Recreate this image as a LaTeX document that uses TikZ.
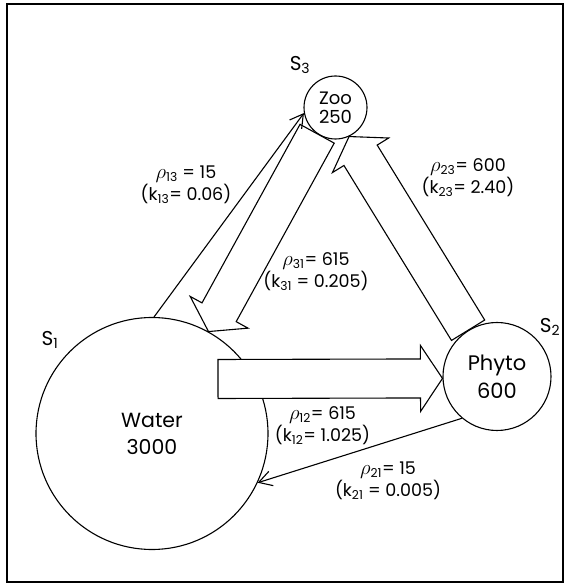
\documentclass[tikz,border=0pt]{standalone}
\usepackage{fontspec}
\setmainfont{Poppins}
\usetikzlibrary{calc}
\usetikzlibrary{arrows.meta}

\tikzset{
  pool/.style={draw, circle, line width=1.1pt, inner sep=0pt, align=center},
  bigflux/.style={draw, fill=white, line width=1.1pt, line join=miter},
  flux/.style={line width=1.1pt, -{Straight Barb[length=13pt,width=15pt]}},
  rate/.style={align=center, font=\fontsize{17.5}{22}\selectfont},
  tag/.style={font=\fontsize{20}{24}\selectfont},
}

\newcommand{\flowrho}{{\fontsize{22}{22}\selectfont$\rho$}}

% block arrow from #1 to the tip #2
\newcommand{\fatarrow}[2]{%
  \coordinate (head) at ($(#2)!22pt!(#1)$);
  \draw[bigflux] ($(#1)!19.5pt!-90:(#2)$) -- ($(head)!19.5pt!-90:(#2)$)
    -- ($(head)!33pt!-90:(#2)$) -- (#2) -- ($(head)!33pt!90:(#2)$)
    -- ($(head)!19.5pt!90:(#2)$) -- ($(#1)!19.5pt!90:(#2)$) -- cycle;
}

\begin{document}
\begin{tikzpicture}[x=1pt, y=1pt]

\useasboundingbox (0,0) rectangle (566,584);
\draw[line width=1.4pt] (7,2) rectangle (563,580);

% compartments
\node[pool, minimum size=232pt, font=\fontsize{20.5}{27}\selectfont] (water) at (152,150.5) {Water\\3000};
\node[pool, minimum size=108pt, font=\fontsize{21}{28}\selectfont] (phyto) at (497,207.5) {Phyto\\600};
\node[pool, minimum size=63pt, font=\fontsize{18}{19}\selectfont] (zoo) at (335.5,476.5) {Zoo\\250};

\node[tag] (s1) at (50,244) {S\textsubscript{1}};
\node[tag] (s2) at (550,257) {S\textsubscript{2}};
\node[tag] (s3) at (300,519) {S\textsubscript{3}};

% fluxes
\coordinate (start12) at (218,205);
\fatarrow{start12}{phyto.182}
\fatarrow{zoo.235}{water.61}
\fatarrow{phyto.122}{zoo.295}
\draw[flux] (water.89) -- (zoo.190);
\draw[flux] (phyto.230) -- (water.335);

\node[rate] (r13) at (186,399.5) {\flowrho\textsubscript{13} = 15\\(k\textsubscript{13}= 0.06)};
\node[rate] (r31) at (316,312.5) {\flowrho\textsubscript{31}= 615\\(k\textsubscript{31} = 0.205)};
\node[rate] (r23) at (468,406.5) {\flowrho\textsubscript{23}= 600\\(k\textsubscript{23}= 2.40)};
\node[rate] (r12) at (322.5,158.5) {\flowrho\textsubscript{12}= 615\\(k\textsubscript{12}= 1.025)};
\node[rate] (r21) at (388,103.5) {\flowrho\textsubscript{21}= 15\\(k\textsubscript{21} = 0.005)};

\end{tikzpicture}
\end{document}
